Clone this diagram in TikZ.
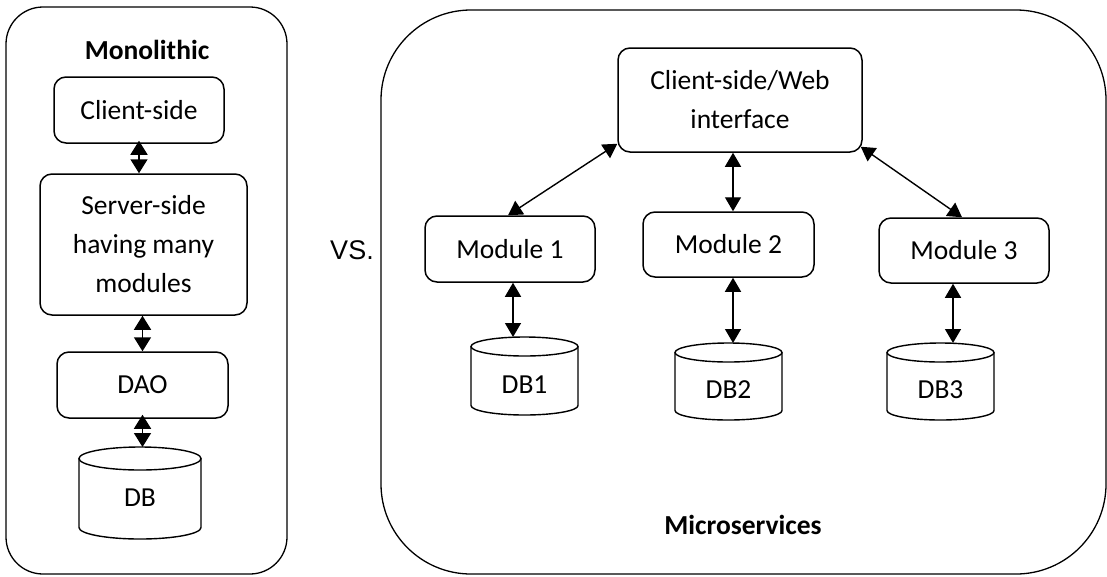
\documentclass[tikz,border=0pt]{standalone}
\usepackage{fontspec}
\setmainfont{Carlito}
\newfontfamily\vsfont{Liberation Sans}
\usetikzlibrary{arrows.meta,calc}

% database cylinder: name, centre x, top y, x radius, y radius, body height, label y, label
\newcommand\dbcyl[8]{%
  \coordinate (#1-top) at (#2,#3);
  \draw[dbline] ({#2-#4},{#3+#5}) -- ++(0,#6)
      arc[start angle=180,end angle=0,x radius=#4,y radius=#5] -- ++(0,-#6);
  \draw[dbline] (#2,{#3+#5}) ellipse[x radius=#4,y radius=#5];
  \node[txt] (#1) at (#2,#7) {#8};}

\begin{document}
\begin{tikzpicture}[x=1pt,y=-1pt,
  txt/.style={font=\fontsize{27.5}{39}\selectfont, inner sep=0pt, align=center},
  title/.style={txt, font=\fontsize{27.5}{39}\selectfont\bfseries},
  box/.style={txt, draw, line width=1.5pt, rounded corners=12pt},
  frame/.style={draw, line width=1.3pt, inner sep=0pt},
  dbline/.style={line width=1.4pt},
  dbl/.style={line width=1.5pt, {Triangle[length=14pt,width=17pt]}-{Triangle[length=14pt,width=17pt]}},
  dblr/.style={line width=1.4pt, {Triangle[length=14pt,width=16pt]}-{Triangle[length=14pt,width=16pt]}}]

\useasboundingbox (0,0) rectangle (1107,576);

% outer frames
\node[frame, rounded corners=37pt, minimum width=281pt, minimum height=567pt] (mono) at (146.5,290.5) {};
\node[frame, rounded corners=90pt, minimum width=725pt, minimum height=564pt] (micro) at (743.5,292) {};

% monolithic side
\node[title] (montitle) at (147,50) {Monolithic};
\node[box, minimum width=170pt, minimum height=66pt] (cs) at (139,110) {Client-side};
\node[box, minimum width=207pt, minimum height=141pt] (ss) at (143.5,244.5) {Server-side\\having many\\modules};
\node[box, minimum width=171pt, minimum height=66pt] (dao) at (142.5,385) {DAO};
\dbcyl{db}{140}{447}{61}{11.5}{69}{498}{DB}

\draw[dbl] ([yshift=3pt]cs.south) -- (cs.south |- ss.north);
\draw[dbl] (dao.north |- ss.south) -- (dao.north);
\draw[dbl] ([yshift=4pt]dao.south) -- (dao.south |- db-top);

% versus
\node[inner sep=0pt, font=\vsfont\fontsize{27}{32}\selectfont] (vs) at (352,250) {VS.};

% microservices side
\node[box, minimum width=244pt, minimum height=104pt] (web) at (740,100) {Client-side/Web\\interface};
\node[box, minimum width=170pt, minimum height=66pt] (m1) at (510,249) {Module 1};
\node[box, minimum width=171pt, minimum height=65pt] (m2) at (728.5,244.5) {Module 2};
\node[box, minimum width=170pt, minimum height=65pt] (m3) at (964,250.5) {Module 3};
\dbcyl{db1}{524.5}{337}{53.5}{9.5}{59}{385}{DB1}
\dbcyl{db2}{728.5}{343}{53.5}{9.5}{58}{390}{DB2}
\dbcyl{db3}{940.5}{343}{53.5}{9.5}{58}{390}{DB3}
\node[title] (mictitle) at (743,525) {Microservices};

\draw[dblr] ([yshift=9pt]web.south west) -- ([xshift=-2pt]m1.north);
\draw[dblr] ([xshift=4.5pt]m2.north) -- ([xshift=4.5pt]m2.north |- web.south);
\draw[dblr] ([xshift=-2pt,yshift=6pt]web.south east) -- ([xshift=-2pt]m3.north);
\draw[dblr] ([xshift=3pt]m1.south) -- ([xshift=3pt]m1.south |- db1-top);
\draw[dblr] ([xshift=4.5pt]m2.south) -- ([xshift=4.5pt]m2.south |- db2-top);
\draw[dblr] ([xshift=-11pt]m3.south) -- ([xshift=-11pt]m3.south |- db3-top);
\end{tikzpicture}
\end{document}
